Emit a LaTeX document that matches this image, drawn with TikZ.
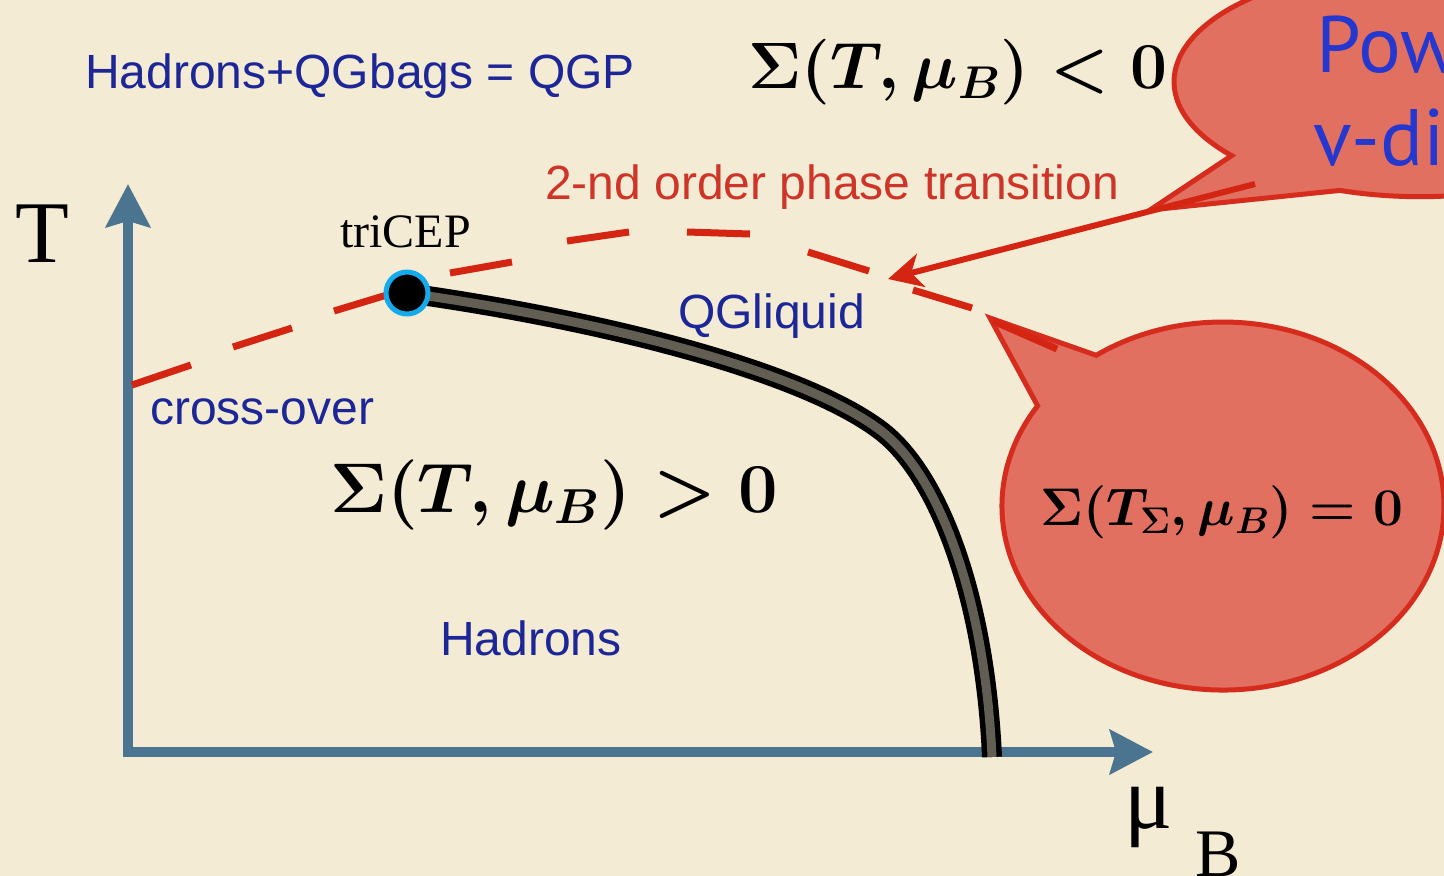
\RequirePackage{fix-cm}
\documentclass[tikz,border=0pt]{standalone}
\usepackage{amsmath,amssymb}
\usepackage[no-math]{fontspec}
\setmainfont{Liberation Serif}
\setsansfont{Liberation Sans}
\newfontfamily\gillfont{PT Sans}
\usetikzlibrary{arrows.meta,positioning,calc}

\definecolor{parchment}{RGB}{243,235,212}
\definecolor{axisblue}{RGB}{74,116,143}
\definecolor{labelblue}{RGB}{28,38,150}
\definecolor{labelred}{RGB}{207,52,40}
\definecolor{trred}{RGB}{212,36,18}
\definecolor{bubblered}{RGB}{226,112,96}
\definecolor{bubbleedge}{RGB}{214,44,30}
\definecolor{liquidgray}{RGB}{98,94,84}
\definecolor{cepcyan}{RGB}{20,170,235}
\definecolor{powblue}{RGB}{36,56,208}

\begin{document}
\begin{tikzpicture}[x=1pt,y=-1pt,
  lab/.style={inner sep=0pt,anchor=base west,font=\sffamily\fontsize{48}{56}\selectfont,text=labelblue},
  eqn/.style={inner sep=0pt,anchor=west,font=\fontsize{68}{80}\selectfont},
  axis/.style={line width=10pt,draw=axisblue,{Stealth[length=43pt,width=44pt,inset=6pt]}-{Stealth[length=43pt,width=44pt,inset=6pt]}},
  trans/.style={line width=7pt,draw=trred},
  bubble/.style={fill=bubblered,draw=bubbleedge,line width=5pt,line join=miter},
  liquid/.style={line width=5.5pt,double=liquidgray,double distance=9pt}]
\useasboundingbox (0,0) rectangle (1444,876);
\clip (0,0) rectangle (1444,876);
\fill[parchment] (0,0) rectangle (1444,876);

% speech bubbles
\coordinate (tipA) at (1150,210);
\draw[bubble] (tipA) -- (1231.6,155.6) arc[start angle=140,end angle=469,x radius=246,y radius=115] -- cycle;
\coordinate (tipB) at (990,318);
\draw[bubble] (tipB) -- (1096.2,355.3) arc[start angle=235,end angle=573,x radius=221,y radius=184] -- cycle;

% axes
\coordinate (O) at (128,752);
\coordinate (Tend) at (128,184);
\coordinate (Mend) at (1153,752);
\draw[axis] (Mend) -- (O) -- (Tend);

% crossover / 2nd order line
\foreach \xa/\ya/\xb/\yb in {132/385/191/365,233/347/292/328,334/311/400/291,450/273/512/262,
  567/241/629/232,687/232/750/234,808/252/869/271,913/290/972/308,993/321/1057/349}
  \draw[trans] (\xa,\ya) -- (\xb,\yb);

% 1st order line
\coordinate (cep) at (407,293);
\coordinate (ebot) at (992,757);
\draw[liquid] (cep) .. controls (600,320) and (800,370) .. (880,430)
  .. controls (940,475) and (985,600) .. (ebot);
\node[circle,fill=black,draw=cepcyan,line width=5pt,minimum size=42pt,inner sep=0pt] (tricep) at (cep) {};

% pointer
\coordinate (arrowfrom) at (1255,184);
\coordinate (arrowto) at (888,279);
\draw[line width=6pt,draw=trred,-{Stealth[length=34pt,width=34pt,inset=10pt]}] (arrowfrom) -- (arrowto);

% labels
\node[lab] (hqgp) at (85,88) {Hadrons+QGbags = QGP};
\node[eqn,font=\fontsize{65.6}{76}\selectfont] (neg) at (748,72) {$\boldsymbol{\Sigma(T,\mu_B)<0}$};
\node[lab,text=labelred] (order2) at (545,199) {2-nd order phase transition};
\node[inner sep=0pt,anchor=base west,font=\fontsize{48}{56}\selectfont] (cepname) at (340,247) {triCEP};
\node[inner sep=0pt,anchor=base west,font=\fontsize{88}{100}\selectfont] (Tlab) at (15,262) {T};
\node[lab] (qgl) at (678,328) {QGliquid};
\node[lab] (cross) at (150,424) {cross-over};
\node[eqn,font=\fontsize{70.2}{80}\selectfont] (pos) at (330,495) {$\boldsymbol{\Sigma(T,\mu_B)>0}$};
\node[lab] (had) at (440,655) {Hadrons};
\node[eqn,font=\fontsize{53}{62}\selectfont] (zero) at (1040,512) {$\boldsymbol{\Sigma(T_\Sigma,\mu_B)=0}$};
\node[inner sep=0pt,anchor=base west,font=\fontsize{90}{100}\selectfont] (mulab) at (1124,828) {μ};
\node[inner sep=0pt,anchor=base west,font=\fontsize{68}{80}\selectfont] (Blab) at (1195,876) {B};
\node[inner sep=0pt,anchor=base west,font=\gillfont\fontsize{80}{90}\selectfont,text=powblue] (pow) at (1316,72) {Pow};
\node[inner sep=0pt,anchor=base west,font=\gillfont\fontsize{80}{90}\selectfont,text=powblue] (vdis) at (1313,165) {v-dis};
\end{tikzpicture}
\end{document}
